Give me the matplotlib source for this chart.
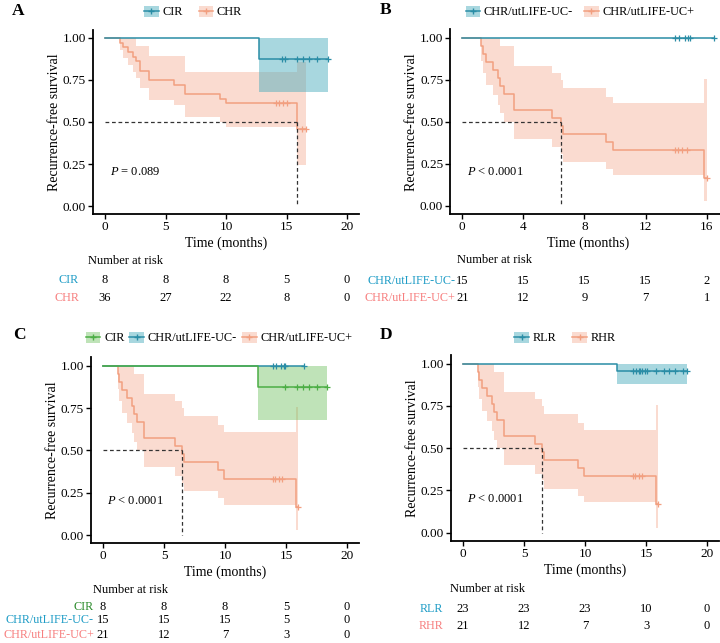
import matplotlib
matplotlib.use('Agg')
import matplotlib.pyplot as plt
import matplotlib.transforms as mtransforms
from matplotlib.patches import Patch
from matplotlib.lines import Line2D

plt.rcParams['font.family'] = ['Liberation Serif', 'DejaVu Serif']
plt.rcParams['mathtext.fontset'] = 'custom'
plt.rcParams['mathtext.rm'] = 'Liberation Serif'
plt.rcParams['mathtext.it'] = 'Liberation Serif:italic'

# colours
BLUE, BLUE_FILL = '#2A8DA6', '#3EA8BA'
RED, RED_FILL = '#F29F80', '#F4B197'
GREEN, GREEN_FILL = '#4CAE45', '#71C163'
BLUE_TXT, RED_TXT, GREEN_TXT = '#1E9CC6', '#F77F7F', '#2A8A2A'

# ---- data ----
# CIR (panel A and C)
cir_t = [0, 12.7, 18.4]
cir_s = [1, 0.875, 0.875]
cir_lo = [1, 0.68, 0.68]
cir_hi = [1, 1, 1]
cir_cens = [14.6, 14.9, 15.9, 16.4, 16.9, 17.5, 18.4]

# CHR (panel A)
chr_t = [0, 1.2, 1.5, 1.9, 2.3, 2.6, 2.9, 3.6, 5.7, 6.6, 9.5, 10.0, 15.9, 16.6]
chr_s = [1, .972, .944, .917, .889, .861, .806, .75, .722, .667, .639, .611, .458, .458]
chr_lo = [1, .93, .88, .84, .80, .76, .70, .63, .60, .53, .50, .47, .245, .245]
chr_hi = [1, 1, 1, 1, 1, .95, .95, .89, .89, .80, .80, .80, .86, .86]
chr_cens = [14.1, 14.4, 14.7, 15.0, 16.3, 16.6]

# CHR/utLIFE-UC- (panel B, C)
ucn_t = [0, 16.5]
ucn_s = [1, 1]
ucn_cens = [13.9, 14.2, 14.6, 14.8, 14.9, 16.5]

# CHR/utLIFE-UC+ = RHR (panel B, C, D)
ucp_t = [0, 1.2, 1.35, 1.55, 2.0, 2.35, 2.5, 2.75, 3.4, 5.9, 6.45, 6.6, 9.4, 9.9, 15.85, 16.0]
ucp_s = [1, .952, .905, .857, .810, .762, .714, .667, .571, .524, .476, .429, .381, .333, .167, .167]
ucp_lo = [1, .86, .79, .72, .66, .60, .55, .50, .40, .35, .31, .26, .22, .18, .03, .03]
ucp_hi = [1, 1, 1, 1, 1, 1, .95, .95, .83, .79, .75, .70, .65, .61, .755, .755]
ucp_cens = [13.9, 14.1, 14.4, 14.7, 16.0]

# RLR (panel D)
rlr_t = [0, 12.6, 18.4]
rlr_s = [1, 0.957, 0.957]
rlr_lo = [1, 0.877, 0.877]
rlr_hi = [1, 1, 1]
rlr_cens = [13.9, 14.2, 14.4, 14.5, 14.7, 14.9, 15.1, 15.8, 16.5, 16.9, 17.4, 18.0, 18.4]

# number at risk
risk_a_times = [0, 5, 10, 15, 20]
risk_a_cir = [8, 8, 8, 5, 0]
risk_a_chr = [36, 27, 22, 8, 0]
risk_b_times = [0, 4, 8, 12, 16]
risk_b_ucn = [15, 15, 15, 15, 2]
risk_b_ucp = [21, 12, 9, 7, 1]
risk_c_cir = [8, 8, 8, 5, 0]
risk_c_ucn = [15, 15, 15, 5, 0]
risk_c_ucp = [21, 12, 7, 3, 0]
risk_d_rlr = [23, 23, 23, 10, 0]
risk_d_rhr = [21, 12, 7, 3, 0]

W, H = 720, 643
fig = plt.figure(figsize=(W / 100, H / 100), dpi=100)


def make_ax(x0, k, y1, y0, xlim):
    # x0: pixel of t=0, k: pixels per month, y1/y0 pixel of S=1 / S=0
    left = x0 + k * xlim[0]
    right = x0 + k * xlim[1]
    ky = y0 - y1
    top = y1 - 0.05 * ky
    bot = y0 + 0.05 * ky
    ax = fig.add_axes([left / W, 1 - bot / H, (right - left) / W, (bot - top) / H])
    ax.set_xlim(*xlim)
    ax.set_ylim(-0.05, 1.05)
    for sp in ['top', 'right']:
        ax.spines[sp].set_visible(False)
    for sp in ['left', 'bottom']:
        ax.spines[sp].set_linewidth(1.3)
    ax.tick_params(length=3.5, width=1.0, labelsize=9.5, pad=1.5)
    ax.set_yticks([0, 0.25, 0.5, 0.75, 1.0])
    ax.set_yticklabels(['0.00', '0.25', '0.50', '0.75', '1.00'])
    ax.set_ylabel('Recurrence-free survival', fontsize=10, labelpad=1)
    ax.set_xlabel('Time (months)', fontsize=10, labelpad=2.5)
    return ax


def draw_curve(ax, t, s, lo, hi, cens, line, fill):
    if lo is not None:
        ax.fill_between(t, lo, hi, step='post', color=fill, alpha=0.45, lw=0)
    ax.step(t, s, where='post', color=line, lw=1.1)
    cs = [s[max(i for i, tt in enumerate(t) if tt <= c)] for c in cens]
    ax.plot(cens, cs, ls='', marker='+', ms=5, mew=0.9, color=line)


def median_line(ax, tm):
    ax.plot([0, tm], [0.5, 0.5], color='#333333', lw=0.9, ls=(0, (3, 2.2)))
    ax.plot([tm, tm], [0.5, 0], color='#333333', lw=0.9, ls=(0, (3, 2.2)))


def legend(cx, cy, names, lines, fills, colsp=1.0):
    handles = [(Patch(facecolor=f, alpha=0.45, lw=0),
                Line2D([], [], color=l, marker='+', ms=5, lw=1.1))
               for l, f in zip(lines, fills)]
    fig.legend(handles, names, loc='center', bbox_to_anchor=(cx / W, 1 - cy / H),
               ncol=len(names), frameon=False, fontsize=8.8, handlelength=1.2,
               handleheight=1.0, handletextpad=0.3, columnspacing=colsp)


def risk_table(ax, times, rows, names, colors, title_xy, label_x, row_ys):
    tr = mtransforms.blended_transform_factory(ax.transData, fig.transFigure)
    fig.text(title_xy[0] / W, 1 - title_xy[1] / H, 'Number at risk', fontsize=9,
             ha='left', va='center')
    for vals, nm, col, yy in zip(rows, names, colors, row_ys):
        fig.text(label_x / W, 1 - yy / H, nm, color=col, fontsize=8.7, ha='right', va='center')
        for t, v in zip(times, vals):
            ax.text(t, 1 - yy / H, str(v), transform=tr, fontsize=9, ha='center',
                    va='center', clip_on=False)


def panel_letter(x, y, s):
    fig.text(x / W, 1 - y / H, s, fontsize=12.5, fontweight='bold', ha='left', va='center')


# ---- Panel A ----
axA = make_ax(105, 12.1, 38, 206, (-1, 21))
axA.set_xticks([0, 5, 10, 15, 20])
draw_curve(axA, chr_t, chr_s, chr_lo, chr_hi, chr_cens, RED, RED_FILL)
draw_curve(axA, cir_t, cir_s, cir_lo, cir_hi, cir_cens, BLUE, BLUE_FILL)
median_line(axA, 15.9)
axA.text(0.4, 0.2, r'$P$ = 0.089', fontsize=9, va='center')
legend(193, 12, ['CIR', 'CHR'], [BLUE, RED], [BLUE_FILL, RED_FILL], 1.3)
risk_table(axA, risk_a_times, [risk_a_cir, risk_a_chr], ['CIR', 'CHR'],
           [BLUE_TXT, RED_TXT], (88, 261), 79, [280, 298])
panel_letter(12, 11, 'A')

# ---- Panel B ----
axB = make_ax(462.3, 15.27, 37.7, 205.7, (-0.8, 17.3))
axB.set_xticks([0, 4, 8, 12, 16])
draw_curve(axB, ucp_t, ucp_s, ucp_lo, ucp_hi, ucp_cens, RED, RED_FILL)
draw_curve(axB, ucn_t, ucn_s, None, None, ucn_cens, BLUE, BLUE_FILL)
median_line(axB, 6.45)
axB.text(0.3, 0.2, r'$P$ < 0.0001', fontsize=9, va='center')
legend(580, 12, ['CHR/utLIFE-UC-', 'CHR/utLIFE-UC+'], [BLUE, RED], [BLUE_FILL, RED_FILL], 0.9)
risk_table(axB, risk_b_times, [risk_b_ucn, risk_b_ucp], ['CHR/utLIFE-UC-', 'CHR/utLIFE-UC+'],
           [BLUE_TXT, RED_TXT], (457, 260), 455, [281, 298])
panel_letter(380, 10, 'B')

# ---- Panel C ----
axC = make_ax(103, 12.2, 365.7, 535, (-1, 21))
axC.set_xticks([0, 5, 10, 15, 20])
draw_curve(axC, ucp_t, ucp_s, ucp_lo, ucp_hi, ucp_cens, RED, RED_FILL)
draw_curve(axC, ucn_t, ucn_s, None, None, ucn_cens, BLUE, BLUE_FILL)
draw_curve(axC, cir_t, cir_s, cir_lo, cir_hi, cir_cens[1:], GREEN, GREEN_FILL)
median_line(axC, 6.45)
axC.text(0.3, 0.2, r'$P$ < 0.0001', fontsize=9, va='center')
legend(219, 338, ['CIR', 'CHR/utLIFE-UC-', 'CHR/utLIFE-UC+'], [GREEN, BLUE, RED],
       [GREEN_FILL, BLUE_FILL, RED_FILL], 0.4)
risk_table(axC, risk_a_times, [risk_c_cir, risk_c_ucn, risk_c_ucp],
           ['CIR', 'CHR/utLIFE-UC-', 'CHR/utLIFE-UC+'], [GREEN_TXT, BLUE_TXT, RED_TXT],
           (93, 590), 94, [607, 620, 635])
panel_letter(13, 335, 'C')

# ---- Panel D ----
axD = make_ax(463, 12.2, 363.7, 532.7, (-1, 21))
axD.set_xticks([0, 5, 10, 15, 20])
draw_curve(axD, ucp_t, ucp_s, ucp_lo, ucp_hi, ucp_cens, RED, RED_FILL)
draw_curve(axD, rlr_t, rlr_s, rlr_lo, rlr_hi, rlr_cens, BLUE, BLUE_FILL)
median_line(axD, 6.45)
axD.text(0.3, 0.2, r'$P$ < 0.0001', fontsize=9, va='center')
legend(565, 338, ['RLR', 'RHR'], [BLUE, RED], [BLUE_FILL, RED_FILL], 1.3)
risk_table(axD, risk_a_times, [risk_d_rlr, risk_d_rhr], ['RLR', 'RHR'],
           [BLUE_TXT, RED_TXT], (450, 589), 443, [609, 626])
panel_letter(380, 335, 'D')

fig.savefig('out.png', dpi=100)
